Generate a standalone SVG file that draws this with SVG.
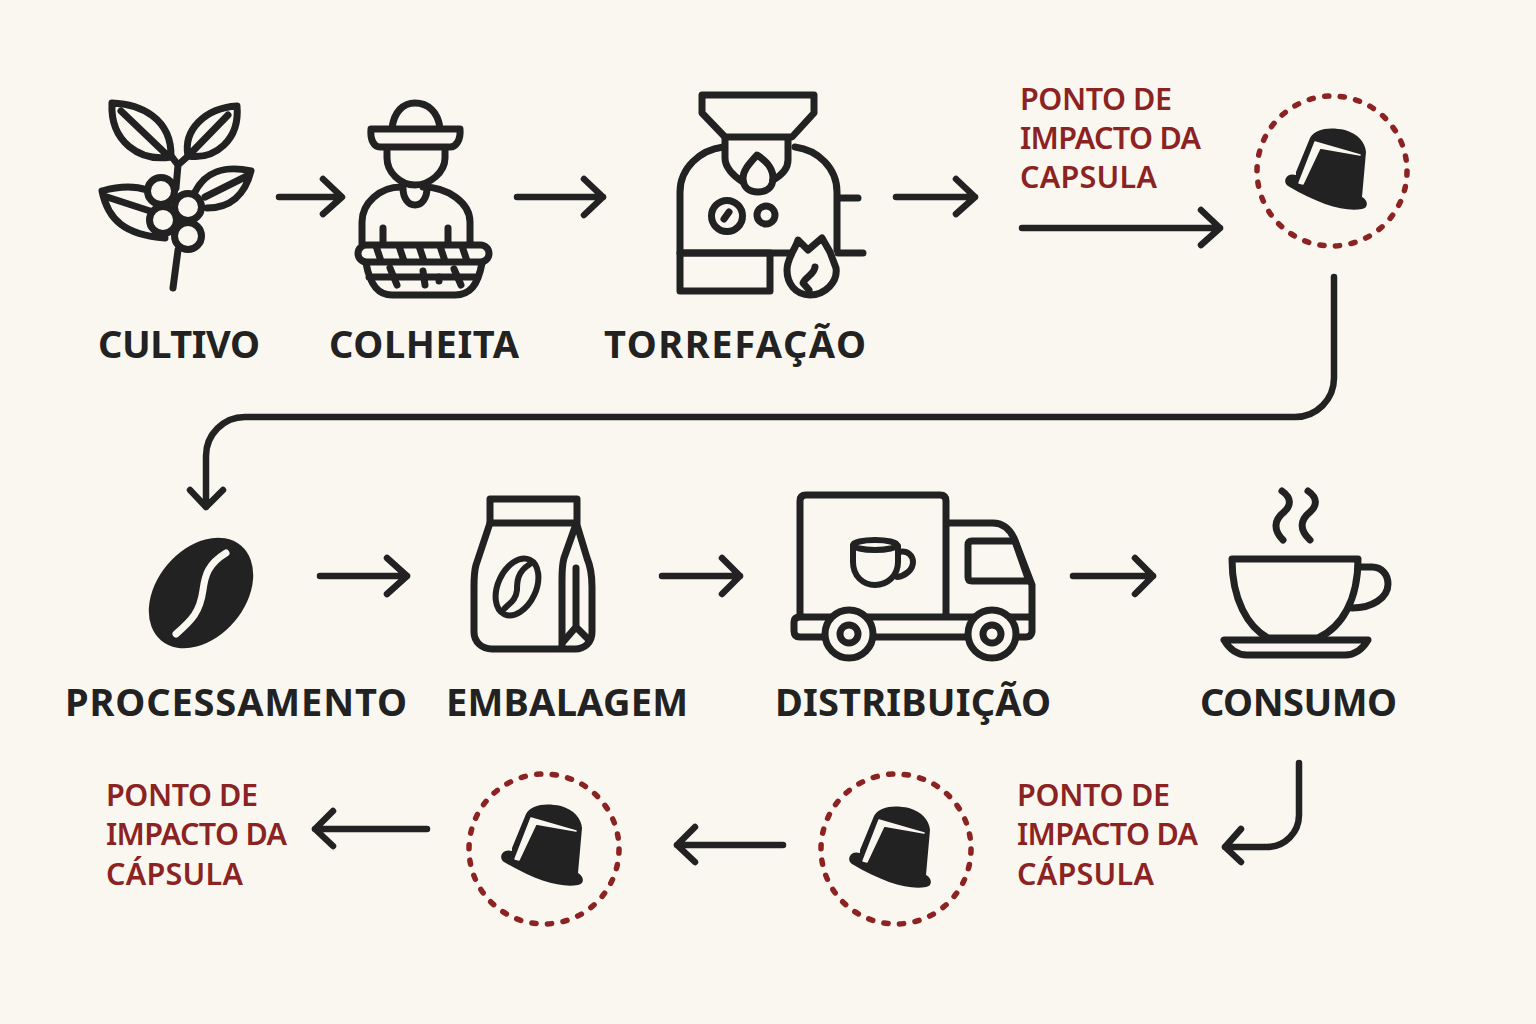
<svg xmlns="http://www.w3.org/2000/svg" width="1536" height="1024" viewBox="0 0 1536 1024">
<style>
.l{fill:none;stroke:#222;stroke-width:7;stroke-linecap:round;stroke-linejoin:round}
.a{fill:none;stroke:#222;stroke-width:6.5;stroke-linecap:round;stroke-linejoin:round}
.c{fill:none;stroke:#222;stroke-width:6;stroke-linecap:round;stroke-linejoin:round}
.bgf{fill:#faf7f1}
.lab{font-family:"Noto Sans","Liberation Sans",sans-serif;font-weight:700;font-size:38px;fill:#222;stroke:none}
.red{font-family:"Noto Sans","Liberation Sans",sans-serif;font-weight:600;font-size:30.5px;fill:#8b2323}
.ring{fill:none;stroke:#8b2323;stroke-width:5.5;stroke-linecap:round;stroke-dasharray:4.2 11.5}
</style>
<defs>
<circle id="ring" class="ring" r="75"/>
<g id="capsule">
<path fill="#222" d="M-36 1 L-22 -33 C-16 -43 -2 -44 13 -41 C26 -37 33 -29 34 -19 L30 26 C36 29 37 37 30 38 C13 41 -12 34 -44 15 C-50 11 -46 1 -36 4Z"/>
<path class="bgf" d="M-33 12 L-17 -29 L28 -16 L-12 -23 L-29 13Z" stroke="#faf7f1" stroke-width="1.5" stroke-linejoin="round"/>
</g>
</defs>
<rect width="1536" height="1024" fill="#faf7f1"/>
<g id="connectors" class="a">
<path d="M279 197H341M323 179L342 197L323 214"/>
<path d="M517 197H603M584 179L603 197L584 215"/>
<path d="M896 197H975M956 179L975 197L956 214"/>
<path d="M1022 228H1220M1201 210L1220 228L1201 245"/>
<path d="M1334 277V378A39 39 0 0 1 1295 417H245A39 39 0 0 0 206 456V507M190 490L206 507L223 490"/>
<path d="M320 576H407M387 558L407 576L387 594"/>
<path d="M662 576H740M722 558L740 576L722 594"/>
<path d="M1073 576H1153M1135 558L1153 576L1135 594"/>
<path d="M1299 763V815A32 32 0 0 1 1267 847H1225M1241 829L1225 847L1241 862"/>
<path d="M783 845H677M695 827L677 845L695 862"/>
<path d="M427 829H315M333 811L315 829L333 846"/>
</g>
<g id="cultivo" class="l">
<path d="M112 103C140 104 172 118 171 157C140 162 110 142 112 103ZM121 111L167 155"/>
<path d="M237 106C205 108 183 130 188 156C215 160 240 140 237 106ZM228 115L192 152"/>
<path d="M251 171C225 165 205 172 195 192M207 208C230 208 245 195 251 171M205 197L245 177"/>
<path d="M102 191C120 186 135 186 147 190M102 191C108 220 125 235 165 238M107 197L150 211"/>
<path d="M172 157L178 165L187 157M178 165L176 188M178 250L173 288"/>
<circle cx="161" cy="191" r="13.5"/><circle cx="188" cy="207" r="13.5"/><circle cx="163" cy="220" r="13.5"/><circle cx="188" cy="236" r="13.5"/>
<text class="lab" x="98" y="358" textLength="162">CULTIVO</text>
</g>
<g id="colheita" class="l">
<path d="M392 128C394 112 403 103 415 103C428 103 438 112 440 128"/>
<path d="M371 129H460C461 140 456 147 450 147H380C374 147 370 140 371 129Z"/>
<path d="M387 148V158C387 172 400 185 415 185C430 185 445 172 445 158V148"/>
<path d="M403 188C403 198 408 205 415 205C422 205 427 198 427 188"/>
<path d="M362 243V222C362 203 380 187 401 187M423 187C448 187 470 203 470 222V243"/>
<path d="M383 228V243M448 228V243"/>
<rect x="358" y="245" width="131" height="17" rx="8.5"/>
<path d="M376 246L381 261M399 246L404 261M419 246L424 261M440 246L445 261M462 246L467 261"/>
<path d="M366 263C370 285 378 295 392 295H455C470 295 478 285 482 263M369 277H478"/>
<path d="M390 268L397 285M423 271L425 285M439 277V281M454 269L461 285"/>
<text class="lab" x="329" y="358" textLength="190">COLHEITA</text>
</g>
<g id="torrefacao" class="l">
<path d="M702 95H814V113L792 137H725L702 113Z"/>
<path d="M725 137V158C725 167 733 176 743 182M788 140V160C788 168 782 175 773 180"/>
<path d="M757 155C750 163 743 170 743 178C743 188 750 192 758 192C766 192 773 188 773 178C773 168 765 160 757 155Z"/>
<path d="M680 253V192C680 168 700 150 723 147M795 147C818 150 837 168 837 192V250M837 198H858M838 253H863M680 253H793"/>
<path d="M680 253H770V291H680Z"/>
<circle cx="727" cy="216" r="15.5"/><path d="M724 219L729 212"/>
<circle cx="766" cy="215" r="9"/>
<path fill="#faf7f1" d="M798 240L808 250L822 238L830 252L836 268C838 282 825 295 810 295C795 295 787 283 787 270C787 258 795 250 798 240Z"/>
<path d="M815 267C814 275 805 277 803 283L809 290"/>
<text class="lab" x="604" y="358" textLength="262">TORREFAÇÃO</text>
</g>
<g id="impacto-1">
<text class="red" x="1020" y="110" textLength="152">PONTO DE</text>
<text class="red" x="1020" y="149" textLength="181">IMPACTO DA</text>
<text class="red" x="1020" y="188" textLength="137">CAPSULA</text>
</g>
<g id="capsula-1"><use href="#ring" x="1332" y="171"/><use href="#capsule" x="1332" y="171"/></g>
<g id="processamento">
<ellipse cx="201" cy="593" rx="62" ry="44" transform="rotate(-50 201 593)" fill="#222"/>
<path d="M226 553C208 564 205 575 203 590C200 612 192 620 176 634" fill="none" stroke="#faf7f1" stroke-width="7" stroke-linecap="round"/>
<text class="lab" x="65" y="716" textLength="342">PROCESSAMENTO</text>
</g>
<g id="embalagem" class="l">
<path d="M490 499H577V523H490Z"/>
<path d="M490 523L476 565C474 572 474 580 474 587V632C474 642 482 649 492 649H575C585 649 592 642 592 632V587C592 575 590 565 587 558L577 525"/>
<path d="M575 527L564 558C562 565 562 572 562 580V648"/>
<path d="M576 568V627M563 642L576 627L589 640"/>
<ellipse cx="517" cy="587" rx="30" ry="19" transform="rotate(-65 517 587)" class="c"/>
<path d="M530 564C517 572 517 582 517 590C516 600 510 603 504 609" class="c"/>
<text class="lab" x="446" y="716" textLength="242">EMBALAGEM</text>
</g>
<g id="distribuicao" class="l">
<path d="M800 616V501Q800 495 806 495H940Q946 495 946 501V616"/>
<path d="M947 523H993C1003 523 1010 530 1014 538L1032 585V632Q1031 637 1026 637H800Q794 637 794 631V622Q794 617 800 617H1030"/>
<path d="M972 541H1015L1029 581H972Q968 581 968 577V545Q968 541 972 541Z"/>
<circle cx="849" cy="634" r="24" fill="#faf7f1"/><circle cx="849" cy="634" r="9"/>
<circle cx="992" cy="634" r="24" fill="#faf7f1"/><circle cx="992" cy="634" r="9"/>
<g class="c"><ellipse cx="875" cy="545" rx="22" ry="5"/><path d="M853 546V562C853 576 863 585 875 585C887 585 898 576 898 562V546"/><path d="M899 552C908 550 913 556 913 562C913 570 905 576 897 577"/></g>
<text class="lab" x="775" y="716" textLength="276">DISTRIBUIÇÃO</text>
</g>
<g id="consumo" class="l">
<path d="M1282 491C1292 498 1291 506 1284 512C1274 520 1273 530 1283 540M1308 491C1318 498 1317 506 1310 512C1300 520 1299 530 1310 540"/>
<path d="M1232 559H1358C1358 600 1342 627 1318 638H1268C1248 627 1232 600 1232 559Z"/>
<path d="M1360 567H1372C1382 567 1388 575 1388 584C1388 598 1372 608 1352 608"/>
<path d="M1224 640H1368C1362 650 1355 655 1345 655H1247C1237 655 1230 650 1224 640Z"/>
<text class="lab" x="1200" y="716" textLength="197">CONSUMO</text>
</g>
<g id="impacto-2">
<text class="red" x="1017" y="806" textLength="153">PONTO DE</text>
<text class="red" x="1017" y="845" textLength="181">IMPACTO DA</text>
<text class="red" x="1017" y="885" textLength="137">CÁPSULA</text>
</g>
<g id="capsula-2"><use href="#ring" x="896" y="849"/><use href="#capsule" x="896" y="849"/></g>
<g id="capsula-3"><use href="#ring" x="544" y="849"/><use href="#capsule" x="548" y="847"/></g>
<g id="impacto-3">
<text class="red" x="106" y="806" textLength="152">PONTO DE</text>
<text class="red" x="106" y="845" textLength="181">IMPACTO DA</text>
<text class="red" x="106" y="885" textLength="137">CÁPSULA</text>
</g>
</svg>
